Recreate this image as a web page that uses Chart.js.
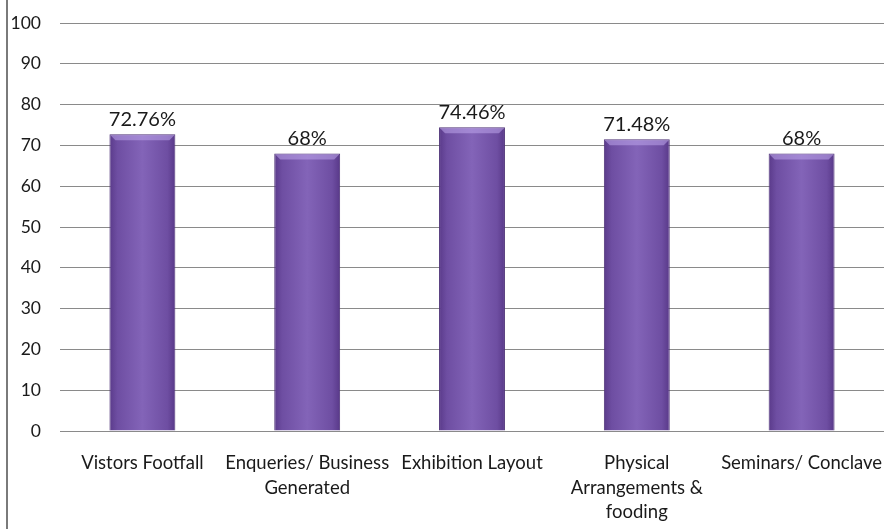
<!DOCTYPE html>
<html>
<head>
<meta charset="utf-8">
<script src="https://cdn.jsdelivr.net/npm/chart.js@4.4.0/dist/chart.umd.min.js"></script>
<style>
  html, body { margin: 0; padding: 0; background: #fff; }
  #wrap { position: relative; width: 884px; height: 529px; }
  #edge { position: absolute; left: 6px; top: 0; width: 2px; height: 529px; background: #7a7a7a; }
</style>
</head>
<body>
<div id="wrap">
  <canvas id="chart" width="884" height="529"></canvas>
  <div id="edge"></div>
</div>
<script>
// categories (multi-line where the original wraps)
const categories = [
    ['Vistors Footfall'],
    ['Enqueries/ Business', 'Generated'],
    ['Exhibition Layout'],
    ['Physical', 'Arrangements &', 'fooding'],
    ['Seminars/ Conclave']
];
const scores = [72.76, 68, 74.46, 71.48, 68];
const scoreLabels = ['72.76%', '68%', '74.46%', '71.48%', '68%'];
const yTicks = [0, 10, 20, 30, 40, 50, 60, 70, 80, 90, 100];

// purple bars, lighter in the middle, darker at the sides
const barShading = {
    id: 'barShading',
    beforeDatasetsDraw(chart) {
        const ctx = chart.ctx;
        chart.getDatasetMeta(0).data.forEach(bar => {
            const half = bar.width / 2;
            const g = ctx.createLinearGradient(bar.x - half, 0, bar.x + half, 0);
            g.addColorStop(0, '#5a3a8a');
            g.addColorStop(0.12, '#6e4ea2');
            g.addColorStop(0.5, '#8364b8');
            g.addColorStop(0.88, '#6e4ea2');
            g.addColorStop(1, '#583888');
            bar.options.backgroundColor = g;
        });
    },
    afterDatasetsDraw(chart) {
        // light bevel along the top of each bar
        const ctx = chart.ctx;
        ctx.save();
        chart.getDatasetMeta(0).data.forEach(bar => {
            const half = bar.width / 2;
            ctx.fillStyle = 'rgba(190,165,235,0.55)';
            ctx.beginPath();
            ctx.moveTo(bar.x - half + 1, bar.y + 1);
            ctx.lineTo(bar.x + half - 1, bar.y + 1);
            ctx.lineTo(bar.x + half - 6, bar.y + 6);
            ctx.lineTo(bar.x - half + 6, bar.y + 6);
            ctx.closePath();
            ctx.fill();
        });
        ctx.restore();
    }
};

const valueLabels = {
    id: 'valueLabels',
    afterDatasetsDraw(chart) {
        const ctx = chart.ctx;
        const meta = chart.getDatasetMeta(0);
        ctx.save();
        ctx.font = '20px Lato';
        ctx.fillStyle = '#1a1a1a';
        ctx.textAlign = 'center';
        ctx.textBaseline = 'bottom';
        meta.data.forEach((bar, i) => {
            ctx.fillText(scoreLabels[i], bar.x, bar.y - 5);
        });
        ctx.restore();
    }
};

new Chart(document.getElementById('chart'), {
    type: 'bar',
    data: {
        labels: categories,
        datasets: [{
            data: scores,
            // scriptable so every bar keeps its own options object
            backgroundColor: () => '#7a58a8',
            borderColor: '#4e3278',
            borderWidth: 1,
            categoryPercentage: 1,
            barPercentage: 0.4
        }]
    },
    options: {
        responsive: false,
        animation: false,
        layout: { padding: { left: 0, right: 0, top: 23, bottom: 0 } },
        plugins: { legend: { display: false }, tooltip: { enabled: false } },
        scales: {
            x: {
                afterFit(axis) { axis.height = 98; axis.paddingLeft = 0; axis.paddingRight = 0; },
                grid: { display: false },
                border: { display: true, color: '#8a8a8a', width: 1 },
                ticks: {
                    color: '#1a1a1a',
                    font: { family: 'Lato', size: 18.5, lineHeight: 1.32 },
                    maxRotation: 0,
                    autoSkip: false,
                    padding: 12
                }
            },
            y: {
                min: 0,
                max: 100,
                afterBuildTicks(axis) { axis.ticks = yTicks.map(v => ({ value: v })); },
                afterFit(axis) { axis.width = 60; axis.paddingTop = 0; axis.paddingBottom = 0; },
                grid: { color: '#8a8a8a', lineWidth: 1, drawTicks: false },
                border: { display: false },
                ticks: {
                    color: '#1a1a1a',
                    font: { family: 'Lato', size: 17.5 },
                    padding: 19
                }
            }
        }
    },
    plugins: [barShading, valueLabels]
});
</script>
</body>
</html>
